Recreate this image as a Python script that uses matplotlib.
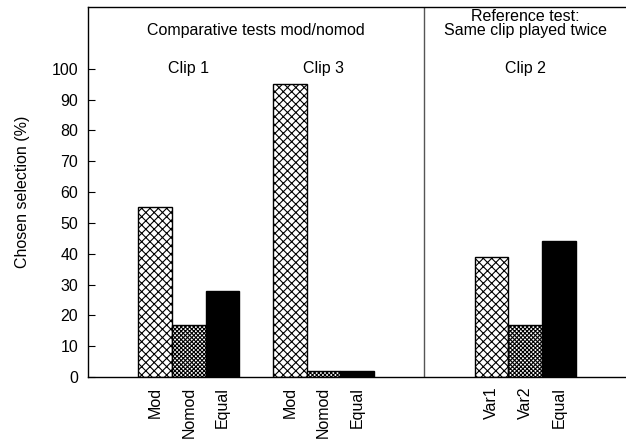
import matplotlib
matplotlib.use("Agg")
import matplotlib.pyplot as plt

# bar data
labels = ['Mod', 'Nomod', 'Equal', 'Mod', 'Nomod', 'Equal', 'Var1', 'Var2', 'Equal']
values = [55, 17, 28, 95, 2, 2, 39, 17, 44]
positions = [2, 3, 4, 6, 7, 8, 12, 13, 14]
hatches = ['xxxx', 'xxxxxxxx', '', 'xxxx', 'xxxxxxxx', '', 'xxxx', 'xxxxxxxx', '']
faces = ['white', 'white', 'black', 'white', 'white', 'black', 'white', 'white', 'black']
yticks = [0, 10, 20, 30, 40, 50, 60, 70, 80, 90, 100]

plt.rcParams['font.family'] = ['Liberation Sans', 'DejaVu Sans']
plt.rcParams['font.size'] = 11.5
plt.rcParams['hatch.linewidth'] = 0.8

fig = plt.figure(figsize=(6.26, 4.41), dpi=100)
ax = fig.add_axes([0.1406, 0.1451, 0.8594, 0.839])

for x, v, h, fc in zip(positions, values, hatches, faces):
    ax.bar(x, v, width=1.0, color=fc, hatch=h, edgecolor='black', linewidth=1.0)

# separator between the two test groups
ax.axvline(10, color='#555555', lw=1.0)

ax.set_xlim(0, 16)
ax.set_ylim(0, 120)
ax.set_yticks(yticks)
ax.set_xticks(positions)
ax.set_xticklabels(labels, rotation=90, va='top', ha='center')
ax.tick_params(axis='x', length=0, pad=7)
ax.tick_params(axis='y', direction='in', length=5, pad=7)

ax.spines['right'].set_visible(False)
for s in ['left', 'top', 'bottom']:
    ax.spines[s].set_linewidth(1.0)

ax.set_ylabel('Chosen selection (%)')
ax.yaxis.set_label_coords(-0.108, 0.5)

# group annotations
ax.text(5, 112.3, 'Comparative tests mod/nomod', ha='center', va='center')
ax.text(3, 100, 'Clip 1', ha='center', va='center')
ax.text(7, 100, 'Clip 3', ha='center', va='center')
ax.text(13, 114.6, 'Reference test:\nSame clip played twice', ha='center', va='center', linespacing=0.95)
ax.text(13, 100, 'Clip 2', ha='center', va='center')

fig.savefig('out.png', dpi=100)
